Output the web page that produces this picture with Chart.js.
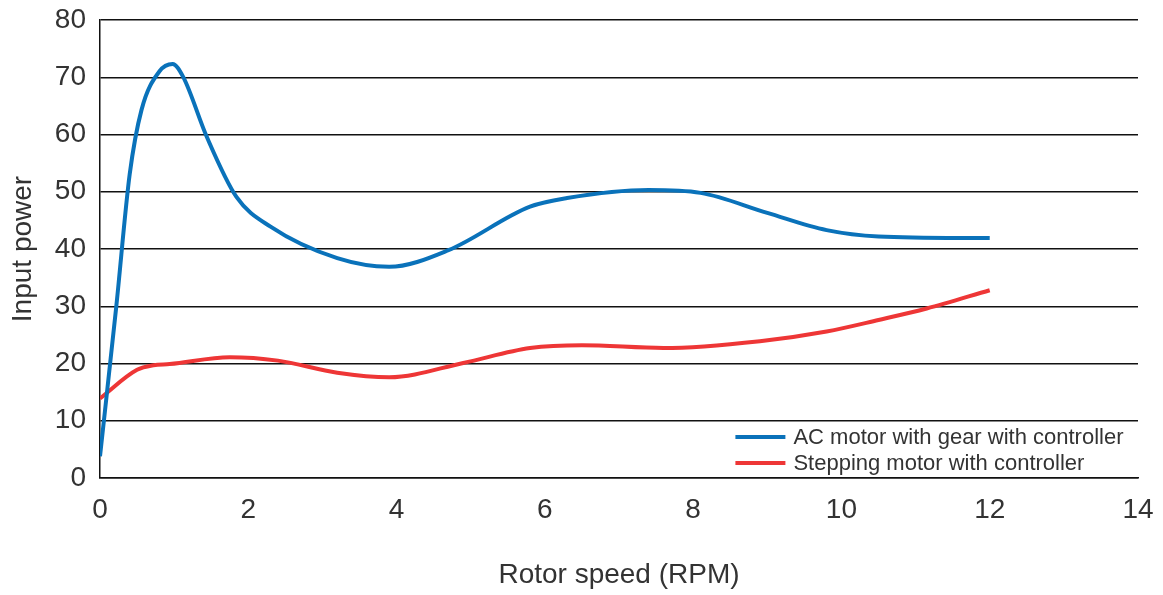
<!DOCTYPE html>
<html>
<head>
<meta charset="utf-8">
<script src="https://cdn.jsdelivr.net/npm/chart.js@4/dist/chart.umd.min.js"></script>
<style>
  html, body { margin: 0; padding: 0; background: #fff; }
  #wrap { width: 1163px; height: 595px; }
</style>
</head>
<body>
<div id="wrap"><canvas id="chart"></canvas></div>
<script>
// values
const acSpeed = [0, 0.22, 0.4, 0.56, 0.8, 0.98, 1.12, 1.44, 1.84, 2.3, 3.2, 3.9, 4.7, 5.8, 6.3, 7.4, 8.1, 9.0, 9.8, 10.5, 12];
const acPower = [3.8, 30, 53, 64.3, 71, 72.3, 70.1, 59.6, 49.1, 43.9, 38.4, 36.9, 39.8, 47.4, 48.9, 50.3, 49.8, 46.3, 43.3, 42.2, 41.9];

const stepSpeed = [0, 0.5, 0.72, 0.94, 1.75, 2.4, 3.2, 3.9, 4.9, 5.8, 6.5, 7.6, 8.9, 9.8, 10.5, 11.15, 12];
const stepPower = [13.9, 18.9, 19.7, 19.9, 21.1, 20.5, 18.4, 17.6, 20.1, 22.7, 23.2, 22.7, 23.9, 25.6, 27.6, 29.6, 32.8];

const seriesNames = ["AC motor with gear with controller", "Stepping motor with controller"];
const xTitle = "Rotor speed (RPM)";
const yTitle = "Input power";

const toPoints = (xs, ys) => xs.map((x, i) => ({ x: x, y: ys[i] }));

const fontFamily = "'Liberation Sans', Arial, sans-serif";

// legend sits inside the plot, lower right, with line markers
const insideLegend = {
    id: "insideLegend",
    afterDraw(chart) {
        const ctx = chart.ctx;
        const x0 = chart.scales.x.getPixelForValue(8.57);
        const yBase = chart.scales.y.getPixelForValue(7.16);
        ctx.save();
        ctx.font = "22px " + fontFamily;
        ctx.textBaseline = "middle";
        chart.data.datasets.forEach((ds, i) => {
            const y = yBase + i * 26;
            ctx.strokeStyle = ds.borderColor;
            ctx.lineWidth = 4;
            ctx.beginPath();
            ctx.moveTo(x0, y);
            ctx.lineTo(x0 + 50, y);
            ctx.stroke();
            ctx.fillStyle = "#333";
            ctx.fillText(ds.label, x0 + 58, y + 1);
        });
        ctx.restore();
    }
};

const tickFont = { family: fontFamily, size: 28 };
const titleFont = { family: fontFamily, size: 28 };

new Chart(document.getElementById("chart"), {
    type: "line",
    data: {
        datasets: [
            {
                label: seriesNames[0],
                data: toPoints(acSpeed, acPower),
                borderColor: "#0A72BA",
                borderWidth: 4,
                pointRadius: 0,
                cubicInterpolationMode: "monotone",
                fill: false
            },
            {
                label: seriesNames[1],
                data: toPoints(stepSpeed, stepPower),
                borderColor: "#EE3636",
                borderWidth: 4,
                pointRadius: 0,
                cubicInterpolationMode: "monotone",
                fill: false
            }
        ]
    },
    options: {
        responsive: true,
        maintainAspectRatio: false,
        animation: false,
        layout: { padding: { top: 20, right: 25, left: 0, bottom: 0 } },
        plugins: {
            legend: { display: false },
            tooltip: { enabled: false }
        },
        scales: {
            x: {
                type: "linear",
                min: 0,
                max: 14,
                ticks: { stepSize: 2, color: "#333", font: tickFont, padding: 15 },
                grid: { display: false, drawTicks: false },
                border: { display: true, color: "#111", width: 1.5 },
                title: { display: true, text: xTitle, color: "#333", font: titleFont, padding: { top: 30, bottom: 3 } },
                afterFit: (scale) => {
                    scale.height = 117;
                    scale.paddingRight = 0; // let layout padding decide the right edge
                }
            },
            y: {
                min: 0,
                max: 80,
                ticks: { stepSize: 10, color: "#333", font: tickFont, padding: 14 },
                grid: { color: "#111", lineWidth: 1.5, drawTicks: false },
                border: { display: true, color: "#111", width: 1.5 },
                title: { display: true, text: yTitle, color: "#333", font: titleFont, padding: { top: 6, bottom: 0 } },
                afterFit: (scale) => {
                    scale.width = 100;
                    scale.paddingTop = 0;
                }
            }
        }
    },
    plugins: [insideLegend]
});
</script>
</body>
</html>
